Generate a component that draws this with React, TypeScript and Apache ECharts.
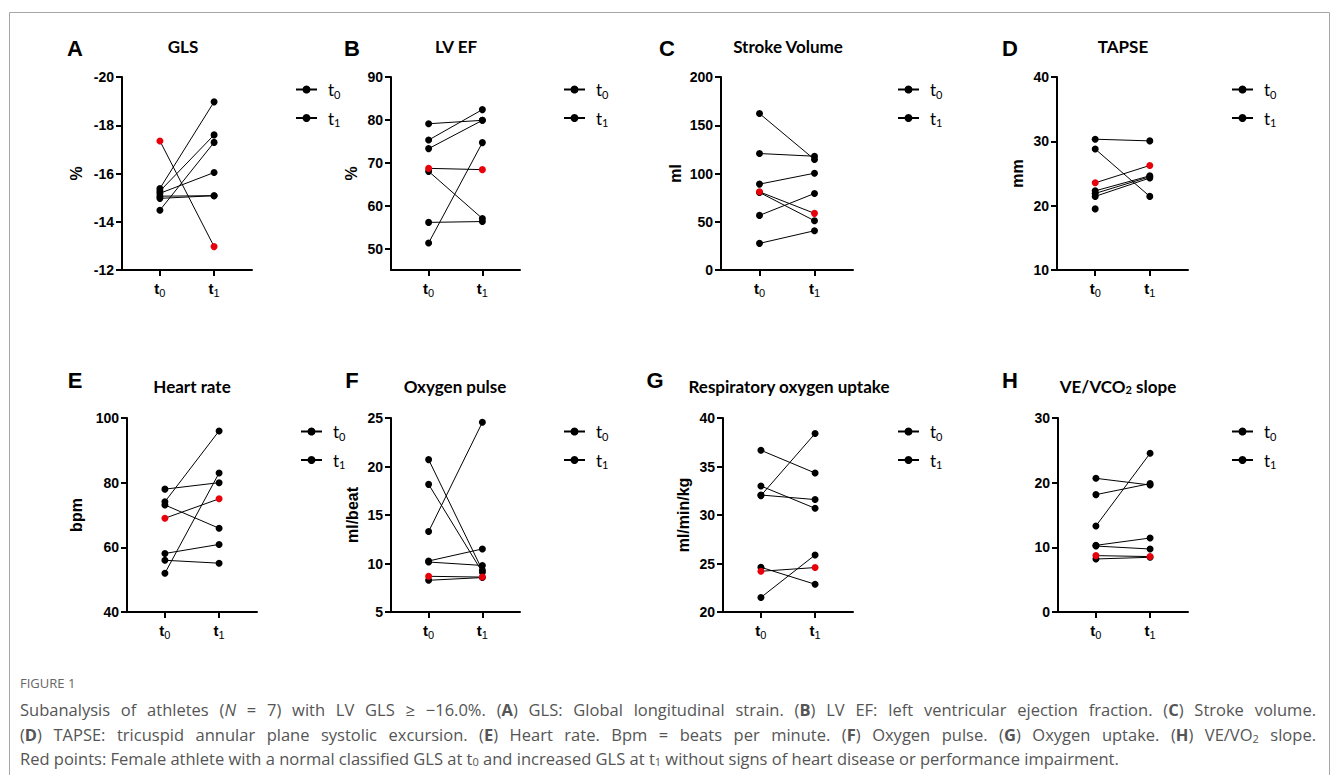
import React, { useEffect, useRef } from 'react';
import * as echarts from 'echarts';

// ---------- DATA ----------
const timepointValues = [0, 1];
const timepointLabels = ['t0', 't1'];
const panelLetters = ['A', 'B', 'C', 'D', 'E', 'F', 'G', 'H'];
const panelTitles = ['GLS', 'LV EF', 'Stroke Volume', 'TAPSE', 'Heart rate', 'Oxygen pulse', 'Respiratory oxygen uptake', 'VE/VCO{s|2} slope'];
const yAxisNames = ['%', '%', 'ml', 'mm', 'bpm', 'ml/beat', 'ml/min/kg', ''];

// athlete index 0 = female athlete (red points)
const glsT0 = [-17.35, -15.38, -15.27, -15.18, -15.06, -14.97, -14.48];
const glsT1 = [-12.97, -18.97, -17.6, -16.04, -15.08, -15.08, -17.29];
const lvefT0 = [68.7, 79.1, 75.3, 73.3, 68.0, 56.1, 51.3];
const lvefT1 = [68.4, 79.9, 82.4, 79.9, 57.0, 56.3, 74.7];
const strokeVolT0 = [81.0, 162.1, 120.7, 89.0, 80.4, 56.6, 27.6];
const strokeVolT1 = [58.7, 114.5, 117.9, 100.3, 51.0, 79.3, 40.7];
const tapseT0 = [23.55, 30.33, 28.8, 22.3, 21.9, 21.44, 19.5];
const tapseT1 = [26.25, 30.07, 21.44, 24.64, 24.5, 24.3, null];
const heartRateT0 = [69.0, 78.0, 74.1, 73.1, 58.1, 56.0, 52.0];
const heartRateT1 = [75.0, 80.0, 96.0, 65.9, 60.9, 55.1, 83.0];
const o2PulseT0 = [8.68, 20.71, 18.16, 13.29, 10.26, 10.15, 8.27];
const o2PulseT1 = [8.6, 9.3, 9.1, 24.56, 11.5, 9.8, 8.55];
const vo2T0 = [24.2, 36.67, 32.99, 32.06, 32.0, 24.61, 21.5];
const vo2T1 = [24.58, 34.33, 30.69, 31.59, 38.4, 22.86, 25.88];
const veSlopeT0 = [8.72, 20.67, 18.15, 13.3, 10.31, 10.2, 8.2];
const veSlopeT1 = [8.57, 19.64, 19.85, 24.54, 11.44, 9.74, 8.46];

const yMins = [-20, 45, 0, 10, 40, 5, 20, 0];
const yMaxs = [-12, 90, 200, 40, 100, 25, 40, 30];
const yTickValues = [
  [-20, -18, -16, -14, -12],
  [50, 60, 70, 80, 90],
  [0, 50, 100, 150, 200],
  [10, 20, 30, 40],
  [40, 60, 80, 100],
  [5, 10, 15, 20, 25],
  [20, 25, 30, 35, 40],
  [0, 10, 20, 30],
];

const captionHeading = 'FIGURE 1';
const captionLines = [
  'Subanalysis of athletes ({i|N} = 7) with LV GLS ≥ −16.0%. ({b|A}) GLS: Global longitudinal strain. ({b|B}) LV EF: left ventricular ejection fraction. ({b|C}) Stroke volume.',
  '({b|D}) TAPSE: tricuspid annular plane systolic excursion. ({b|E}) Heart rate. Bpm = beats per minute. ({b|F}) Oxygen pulse. ({b|G}) Oxygen uptake. ({b|H}) VE/VO{s|2} slope.',
  'Red points: Female athlete with a normal classified GLS at t{s|0} and increased GLS at t{s|1} without signs of heart disease or performance impairment.',
];
const captionJustified = [true, true, false];

const panelT0 = [glsT0, lvefT0, strokeVolT0, tapseT0, heartRateT0, o2PulseT0, vo2T0, veSlopeT0];
const panelT1 = [glsT1, lvefT1, strokeVolT1, tapseT1, heartRateT1, o2PulseT1, vo2T1, veSlopeT1];

// ---------- LAYOUT ----------
const AX = '"Liberation Sans", Arial, sans-serif';
const TITLE_FONT = 'Lato, "Open Sans", sans-serif';
const CAP_FAMILY = '"Open Sans"';
const CAP_FONT = '"Open Sans", Lato, sans-serif';
const CAP_SIZE = 16.5;
const CAP_SUB = 11;
const CAP_WIDTH = 1296;
const gridBoxes = [
  [122, 77, 130, 193], [391, 77, 129, 193], [721, 77, 132, 193], [1057, 77, 131, 193],
  [127, 418, 130, 194], [391, 418, 129, 194], [723, 418, 130, 194], [1058, 418, 130, 194],
];
const nameGaps = [38, 32, 38, 32, 43, 31, 32, 32];
const legendLefts = [295, 563, 897, 1231, 300, 563, 897, 1231];
const legendTops = [81, 81, 81, 81, 423, 423, 423, 423];
const titleXs = [183, 456, 788, 1123, 192, 455, 789, 1118];
const titleYs = [46, 46, 46, 46, 386, 386, 386, 386];
const letterXs = [75, 352, 667, 1010, 75, 352, 655, 1010];
const letterYs = [48, 48, 48, 48, 380, 380, 380, 380];

const subLabel = (name: string) => `{t|t}{s|${name.slice(1)}}`;

// Justify a rich caption line: returns the text with spaces as width tokens, and the token width.
function justify(line: string, target: number): { text: string; gap: number } {
  const canvas = document.createElement('canvas');
  const ctx = canvas.getContext('2d');
  if (!ctx) return { text: line, gap: 0 };
  const fontFor = (style: string) => {
    if (style === 'b') return `bold ${CAP_SIZE}px ${CAP_FAMILY}`;
    if (style === 'i') return `italic ${CAP_SIZE}px ${CAP_FAMILY}`;
    if (style === 's') return `${CAP_SUB}px ${CAP_FAMILY}`;
    return `${CAP_SIZE}px ${CAP_FAMILY}`;
  };
  const re = /\{(\w+)\|([^}]*)\}/g;
  const segs: { style: string; text: string }[] = [];
  let last = 0;
  let m: RegExpExecArray | null;
  while ((m = re.exec(line))) {
    if (m.index > last) segs.push({ style: '', text: line.slice(last, m.index) });
    segs.push({ style: m[1], text: m[2] });
    last = m.index + m[0].length;
  }
  if (last < line.length) segs.push({ style: '', text: line.slice(last) });
  let width = 0;
  let spaces = 0;
  for (const s of segs) {
    ctx.font = fontFor(s.style);
    for (const part of s.text.split(' ')) width += ctx.measureText(part).width;
    spaces += s.text.split(' ').length - 1;
  }
  if (!spaces) return { text: line, gap: 0 };
  const gap = Math.max(3, (target - width) / spaces);
  let out = '';
  for (const s of segs) {
    if (s.style) { out += `{${s.style}|${s.text}}`; continue; }
    out += s.text.split(' ').join('{sp| }');
  }
  return { text: out, gap };
}

function buildOption() {
  const grid: any[] = [];
  const xAxis: any[] = [];
  const yAxis: any[] = [];
  const series: any[] = [];
  const legend: any[] = [];
  const graphic: any[] = [];
  const axisLineStyle = { color: '#000', width: 2 };

  for (let p = 0; p < 8; p++) {
    const [l, t, w, h] = gridBoxes[p];
    grid.push({ left: l, top: t, width: w, height: h, containLabel: false, outerBoundsMode: 'none' });
    xAxis.push({
      type: 'value', gridIndex: p, min: -0.7, max: 1.7,
      splitLine: { show: false },
      axisLine: { show: true, onZero: false, lineStyle: axisLineStyle },
      axisTick: { show: true, customValues: timepointValues, length: 6, lineStyle: axisLineStyle },
      axisLabel: {
        customValues: timepointValues, margin: 8,
        formatter: (v: number) => subLabel(timepointLabels[Math.round(v)]),
        rich: {
          t: { fontSize: 15, fontWeight: 'bold', fontFamily: AX, color: '#000', lineHeight: 20 },
          s: { fontSize: 11, fontFamily: AX, color: '#000', lineHeight: 11, verticalAlign: 'bottom' },
        },
      },
    });
    yAxis.push({
      type: 'value', gridIndex: p, min: yMins[p], max: yMaxs[p], inverse: p === 0,
      name: yAxisNames[p], nameLocation: 'middle', nameRotate: 90, nameGap: nameGaps[p],
      nameTextStyle: { fontSize: 16, fontWeight: 'bold', fontFamily: AX, color: '#000' },
      splitLine: { show: false },
      axisLine: { show: true, onZero: false, lineStyle: axisLineStyle },
      axisTick: { show: true, customValues: yTickValues[p], length: 6, lineStyle: axisLineStyle },
      axisLabel: { customValues: yTickValues[p], margin: 8, fontSize: 14, fontWeight: 'bold', fontFamily: AX, color: '#000' },
    });
    const order = [1, 2, 3, 4, 5, 6, 0];
    for (const k of order) {
      const pts: any[] = [];
      const v0 = panelT0[p][k];
      const v1 = panelT1[p][k];
      const col = k === 0 ? '#e8000b' : '#000';
      if (v0 != null) pts.push({ value: [timepointValues[0], v0], itemStyle: { color: col } });
      if (v1 != null) pts.push({ value: [timepointValues[1], v1], itemStyle: { color: col } });
      series.push({
        type: 'line', name: `${panelLetters[p]}-${k}`, xAxisIndex: p, yAxisIndex: p, data: pts,
        symbol: 'circle', symbolSize: 7, showSymbol: true, showAllSymbol: true,
        lineStyle: { color: '#000', width: 1 }, itemStyle: { color: col },
        z: k === 0 ? 4 : 3, silent: true, emphasis: { disabled: true },
      });
    }
    legend.push({
      data: timepointLabels, orient: 'vertical', left: legendLefts[p], top: legendTops[p],
      itemWidth: 21, itemHeight: 10, itemGap: 10, padding: 0, selectedMode: false,
      formatter: (n: string) => subLabel(n),
      textStyle: {
        rich: {
          t: { fontSize: 17, fontFamily: TITLE_FONT, fontWeight: 'normal', color: '#000', lineHeight: 20, padding: [0, 0, 0, 6] },
          s: { fontSize: 11, fontFamily: TITLE_FONT, fontWeight: 'normal', color: '#000', lineHeight: 11, verticalAlign: 'bottom' },
        },
      },
    });
    graphic.push({
      type: 'text', x: titleXs[p], y: titleYs[p], silent: true,
      style: {
        text: panelTitles[p], align: 'center', verticalAlign: 'middle',
        fontSize: 17, fontWeight: 'bold', fontFamily: TITLE_FONT, fill: '#000',
        rich: { s: { fontSize: 11, fontWeight: 'bold', fontFamily: TITLE_FONT, fill: '#000', verticalAlign: 'bottom', lineHeight: 11 } },
      },
    });
    graphic.push({
      type: 'text', x: letterXs[p], y: letterYs[p], silent: true,
      style: { text: panelLetters[p], align: 'center', verticalAlign: 'middle', fontSize: 22, fontWeight: 'bold', fontFamily: AX, fill: '#000' },
    });
  }
  // legend dummy series
  for (const n of timepointLabels) {
    series.push({
      type: 'line', name: n, xAxisIndex: 0, yAxisIndex: 0, data: [], symbol: 'circle', symbolSize: 7,
      lineStyle: { color: '#000', width: 1 }, itemStyle: { color: '#000' }, silent: true,
    });
  }
  graphic.push({
    type: 'rect', silent: true, shape: { x: 9.5, y: 12.5, width: 1320, height: 800 },
    style: { fill: 'none', stroke: '#a6a6a6', lineWidth: 1 }, z: -1,
  });
  graphic.push({
    type: 'text', x: 20, y: 683, silent: true,
    style: { text: captionHeading, verticalAlign: 'middle', fontSize: 13, fontFamily: CAP_FONT, fill: '#666' },
  });
  const capYs = [709, 734, 758];
  captionLines.forEach((line, i) => {
    let text = line;
    let gap = 0;
    if (captionJustified[i]) {
      const j = justify(line, CAP_WIDTH);
      text = j.text;
      gap = j.gap;
    }
    const rich: any = {
      b: { fontSize: CAP_SIZE, fontFamily: CAP_FONT, fontWeight: 'bold', fill: '#555', lineHeight: 20 },
      i: { fontSize: CAP_SIZE, fontFamily: CAP_FONT, fontStyle: 'italic', fill: '#555', lineHeight: 20 },
      s: { fontSize: CAP_SUB, fontFamily: CAP_FONT, fill: '#555', lineHeight: 11, verticalAlign: 'bottom' },
    };
    if (gap > 0) rich.sp = { fontSize: CAP_SIZE, fontFamily: CAP_FONT, fill: '#555', width: gap, lineHeight: 20 };
    graphic.push({
      type: 'text', x: 20, y: capYs[i], silent: true,
      style: { text, verticalAlign: 'middle', fontSize: CAP_SIZE, fontFamily: CAP_FONT, fill: '#555', rich },
    });
  });

  return { animation: false, backgroundColor: '#fff', grid, xAxis, yAxis, series, legend, graphic, tooltip: { show: false } };
}

export default function App() {
  const ref = useRef<HTMLDivElement>(null);
  useEffect(() => {
    document.body.style.margin = '0';
    const chart = echarts.init(ref.current!, null, { renderer: 'svg' });
    chart.setOption(buildOption());
    return () => chart.dispose();
  }, []);
  return <div ref={ref} style={{ width: 1335, height: 775, background: '#fff' }} />;
}
